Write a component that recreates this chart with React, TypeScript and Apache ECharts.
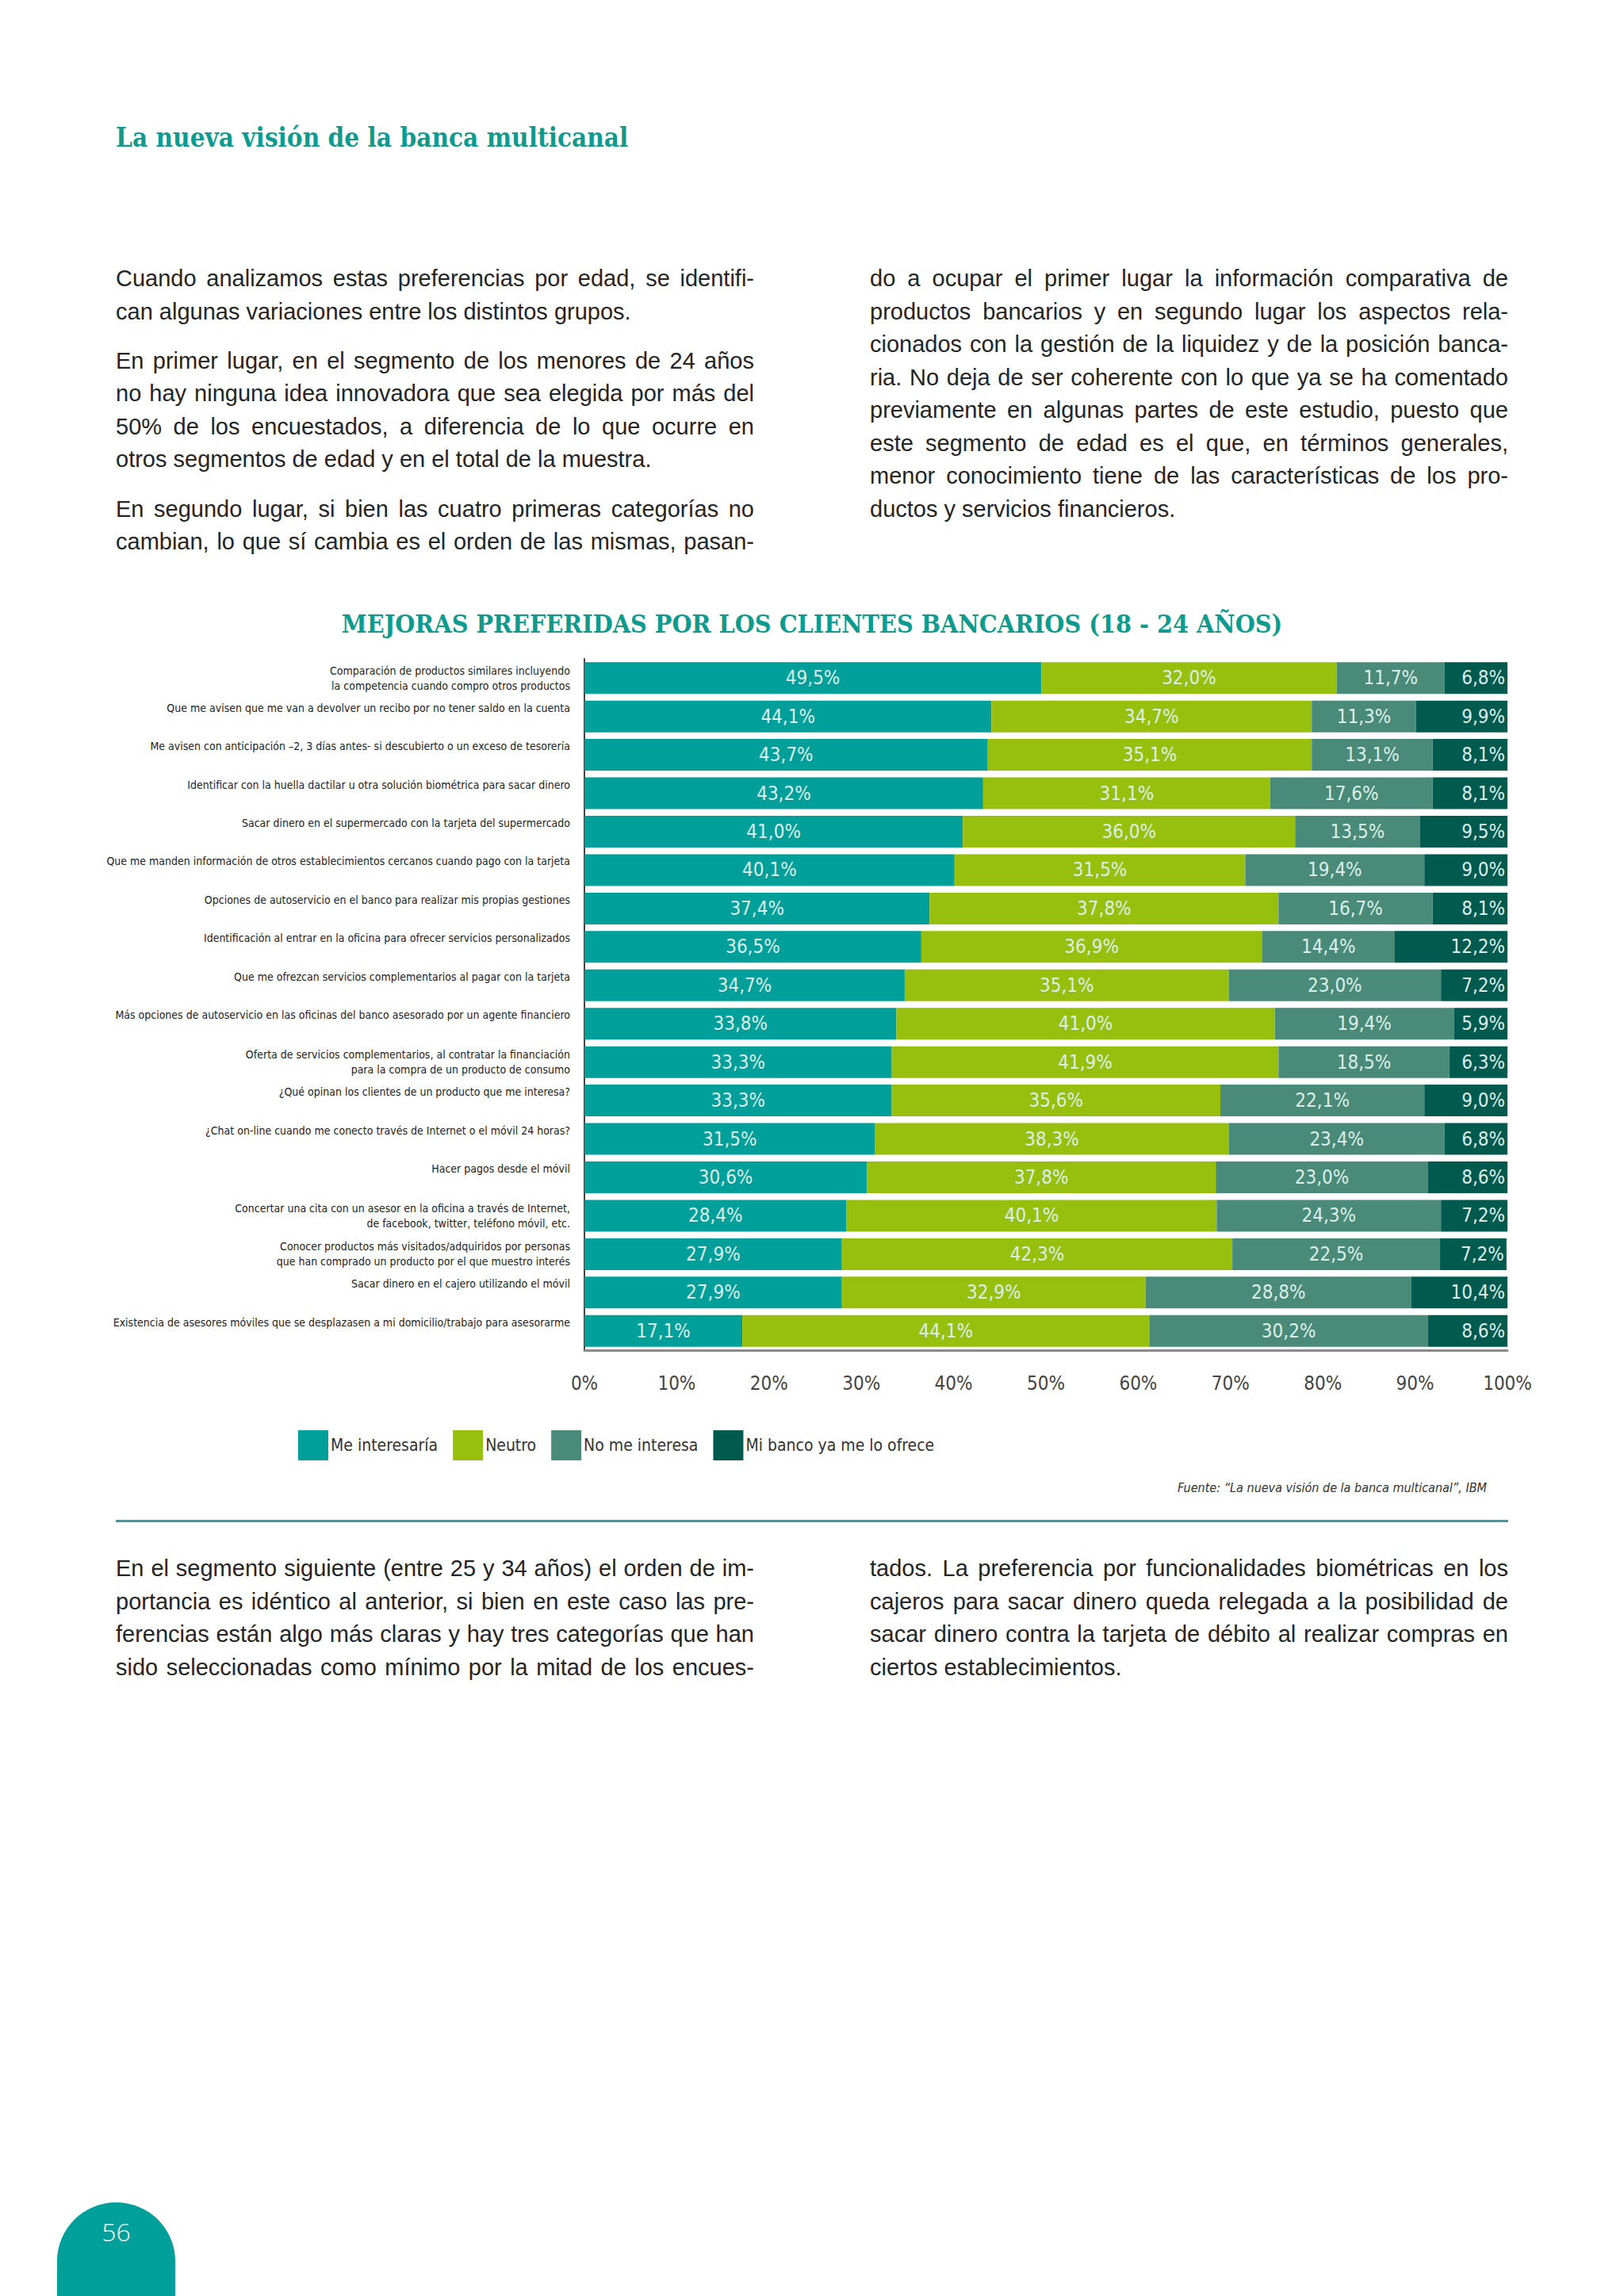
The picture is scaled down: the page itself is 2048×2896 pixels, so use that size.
import React, { useEffect, useRef } from "react";
import * as echarts from "echarts";

// ---------- DATA ----------
const categories: string[] = [
  "Comparación de productos similares incluyendo\nla competencia cuando compro otros productos",
  "Que me avisen que me van a devolver un recibo por no tener saldo en la cuenta",
  "Me avisen con anticipación –2, 3 días antes- si descubierto o un exceso de tesorería",
  "Identificar con la huella dactilar u otra solución biométrica para sacar dinero",
  "Sacar dinero en el supermercado con la tarjeta del supermercado",
  "Que me manden información de otros establecimientos cercanos cuando pago con la tarjeta",
  "Opciones de autoservicio en el banco para realizar mis propias gestiones",
  "Identificación al entrar en la oficina para ofrecer servicios personalizados",
  "Que me ofrezcan servicios complementarios al pagar con la tarjeta",
  "Más opciones de autoservicio en las oficinas del banco asesorado por un agente financiero",
  "Oferta de servicios complementarios, al contratar la financiación\npara la compra de un producto de consumo",
  "¿Qué opinan los clientes de un producto que me interesa?",
  "¿Chat on-line cuando me conecto través de Internet o el móvil 24 horas?",
  "Hacer pagos desde el móvil",
  "Concertar una cita con un asesor en la oficina a través de Internet,\nde facebook, twitter, teléfono móvil, etc.",
  "Conocer productos más visitados/adquiridos por personas\nque han comprado un producto por el que muestro interés",
  "Sacar dinero en el cajero utilizando el móvil",
  "Existencia de asesores móviles que se desplazasen a mi domicilio/trabajo para asesorarme",
];

const meInteresaria: number[] = [49.5, 44.1, 43.7, 43.2, 41.0, 40.1, 37.4, 36.5, 34.7, 33.8, 33.3, 33.3, 31.5, 30.6, 28.4, 27.9, 27.9, 17.1];
const neutro: number[] = [32.0, 34.7, 35.1, 31.1, 36.0, 31.5, 37.8, 36.9, 35.1, 41.0, 41.9, 35.6, 38.3, 37.8, 40.1, 42.3, 32.9, 44.1];
const noMeInteresa: number[] = [11.7, 11.3, 13.1, 17.6, 13.5, 19.4, 16.7, 14.4, 23.0, 19.4, 18.5, 22.1, 23.4, 23.0, 24.3, 22.5, 28.8, 30.2];
const miBancoYaMeLoOfrece: number[] = [6.8, 9.9, 8.1, 8.1, 9.5, 9.0, 8.1, 12.2, 7.2, 5.9, 6.3, 9.0, 6.8, 8.6, 7.2, 7.2, 10.4, 8.6];

const seriesNames: string[] = ["Me interesaría", "Neutro", "No me interesa", "Mi banco ya me lo ofrece"];
const xTicks: number[] = [0, 10, 20, 30, 40, 50, 60, 70, 80, 90, 100];

const chartTitle = "MEJORAS PREFERIDAS POR LOS CLIENTES BANCARIOS (18 - 24 AÑOS)";
const sourceText = "Fuente: “La nueva visión de la banca multicanal”, IBM";

const topCol1: [string, boolean][] = [
  ["Cuando analizamos estas preferencias por edad, se identifi-", true],
  ["can algunas variaciones entre los distintos grupos.", false],
  ["En primer lugar, en el segmento de los menores de 24 años", true],
  ["no hay ninguna idea innovadora que sea elegida por más del", true],
  ["50% de los encuestados, a diferencia de lo que ocurre en", true],
  ["otros segmentos de edad y en el total de la muestra.", false],
  ["En segundo lugar, si bien las cuatro primeras categorías no", true],
  ["cambian, lo que sí cambia es el orden de las mismas, pasan-", true],
];
const topCol1Y: number[] = [351, 393, 455, 496, 538, 579, 642, 683];

const topCol2: [string, boolean][] = [
  ["do a ocupar el primer lugar la información comparativa de", true],
  ["productos bancarios y en segundo lugar los aspectos rela-", true],
  ["cionados con la gestión de la liquidez y de la posición banca-", true],
  ["ria. No deja de ser coherente con lo que ya se ha comentado", true],
  ["previamente en algunas partes de este estudio, puesto que", true],
  ["este segmento de edad es el que, en términos generales,", true],
  ["menor conocimiento tiene de las características de los pro-", true],
  ["ductos y servicios financieros.", false],
];
const topCol2Y: number[] = [351, 393, 434, 476, 517, 559, 600, 642];

const botCol1: [string, boolean][] = [
  ["En el segmento siguiente (entre 25 y 34 años) el orden de im-", true],
  ["portancia es idéntico al anterior, si bien en este caso las pre-", true],
  ["ferencias están algo más claras y hay tres categorías que han", true],
  ["sido seleccionadas como mínimo por la mitad de los encues-", true],
];
const botCol2: [string, boolean][] = [
  ["tados. La preferencia por funcionalidades biométricas en los", true],
  ["cajeros para sacar dinero queda relegada a la posibilidad de", true],
  ["sacar dinero contra la tarjeta de débito al realizar compras en", true],
  ["ciertos establecimientos.", false],
];
const botY: number[] = [1978, 2020, 2061, 2103];

// ---------- STYLE ----------
const COLORS = ["#009F99", "#97BF0D", "#4A8A79", "#005A4E"];
const TEAL = "#0E9B8D";
const NARROW = '"Liberation Sans Narrow", "DejaVu Sans Condensed", "Roboto Condensed", Roboto, sans-serif';
const SLAB = '"DejaVu Serif Condensed", "DejaVu Serif", serif';
const BODY = '"Liberation Sans", Arial, sans-serif';

function Chart() {
  const ref = useRef<HTMLDivElement>(null);
  useEffect(() => {
    if (!ref.current) return;
    const chart = echarts.init(ref.current, null, { renderer: "svg" });
    const fmt = (v: number) => v.toFixed(1).replace(".", ",") + "%";
    const seriesData = [meInteresaria, neutro, noMeInteresa, miBancoYaMeLoOfrece];
    const series = seriesNames.map((name, i) => ({
      name,
      type: "bar",
      stack: "total",
      data: seriesData[i],
      barWidth: 40,
      itemStyle: { color: COLORS[i] },
      label: {
        show: true,
        position: i === 3 ? "insideRight" : "inside",
        distance: 3,
        color: "#DDEFEC",
        fontSize: 24,
        fontFamily: NARROW,
        formatter: (p: any) => fmt(p.value),
      },
    }));
    chart.setOption({
      animation: false,
      backgroundColor: "transparent",
      title: {
        text: chartTitle,
        left: "center",
        top: 26,
        textStyle: { fontFamily: SLAB, fontWeight: "bold", fontSize: 32, color: TEAL },
      },
      legend: {
        data: seriesNames,
        left: 371,
        top: 1059,
        icon: "rect",
        itemWidth: 38,
        itemHeight: 38,
        itemGap: 19,
        textStyle: { fontSize: 21, color: "#333", fontFamily: NARROW, padding: [0, 0, 0, -2] },
      },
      grid: { left: 737, right: 147, top: 91, bottom: 197 },
      xAxis: {
        type: "value",
        min: xTicks[0],
        max: xTicks[xTicks.length - 1],
        interval: xTicks[1] - xTicks[0],
        axisLine: { show: true, lineStyle: { color: "#8A8A8A", width: 3 } },
        axisTick: { show: false },
        splitLine: { show: false },
        axisLabel: {
          margin: 30,
          fontSize: 24,
          color: "#444",
          fontFamily: NARROW,
          formatter: (v: number) => `${v}%`,
        },
      },
      yAxis: {
        type: "category",
        inverse: true,
        data: categories,
        axisLine: { show: true, lineStyle: { color: "#444", width: 2 } },
        axisTick: { show: false },
        axisLabel: {
          margin: 18,
          formatter: (v: string) =>
            v.includes("\n") ? v.split("\n").map((l) => `{m|${l}}`).join("\n") : `{s|${v}}`,
          rich: {
            m: { fontSize: 14, lineHeight: 19, color: "#222", fontFamily: NARROW },
            s: { fontSize: 14, lineHeight: 19, color: "#222", fontFamily: NARROW, padding: [0, 0, 22, 0] },
          },
        },
      },
      series,
      graphic: [
        {
          type: "text",
          x: 1875,
          y: 1136,
          style: {
            text: sourceText,
            align: "right",
            verticalAlign: "middle",
            fontSize: 16,
            fontStyle: "italic",
            fontFamily: NARROW,
            fill: "#333",
          },
        },
      ],
    });
    return () => chart.dispose();
  }, []);
  return <div ref={ref} style={{ position: "absolute", left: 0, top: 740, width: 2048, height: 1160 }} />;
}

function TextLines({ lines, ys, x }: { lines: [string, boolean][]; ys: number[]; x: number }) {
  return (
    <>
      {lines.map(([t, j], i) => (
        <div
          key={i}
          style={{
            position: "absolute",
            left: x,
            top: ys[i] - 21,
            width: 805,
            height: 42,
            lineHeight: "42px",
            fontSize: 29,
            fontFamily: BODY,
            color: "#242424",
            textAlign: j ? "justify" : "left",
            textAlignLast: j ? "justify" : "left",
          } as React.CSSProperties}
        >
          {t}
        </div>
      ))}
    </>
  );
}

export default function App() {
  return (
    <div style={{ position: "absolute", left: 0, top: 0, width: 2048, height: 2896, background: "#FFFFFF", overflow: "hidden" }}>
      <div
        style={{
          position: "absolute",
          left: 146,
          top: 151,
          fontFamily: SLAB,
          fontWeight: "bold",
          fontSize: 33,
          lineHeight: "46px",
          color: TEAL,
          whiteSpace: "nowrap",
        }}
      >
        La nueva visión de la banca multicanal
      </div>
      <TextLines lines={topCol1} ys={topCol1Y} x={146} />
      <TextLines lines={topCol2} ys={topCol2Y} x={1097} />
      <Chart />
      <div style={{ position: "absolute", left: 146, top: 1917, width: 1756, height: 3, background: "#3C9CA3" }} />
      <TextLines lines={botCol1} ys={botY} x={146} />
      <TextLines lines={botCol2} ys={botY} x={1097} />
      <div
        style={{
          position: "absolute",
          left: 72,
          top: 2778,
          width: 149,
          height: 118,
          background: "#009F99",
          borderRadius: "74px 74px 0 0",
        }}
      />
      <div
        style={{
          position: "absolute",
          left: 72,
          top: 2795,
          width: 149,
          textAlign: "center",
          fontFamily: '"Open Sans", Roboto, sans-serif',
          fontWeight: 300,
          fontSize: 32,
          lineHeight: "40px",
          color: "#FFFFFF",
        }}
      >
        56
      </div>
    </div>
  );
}
